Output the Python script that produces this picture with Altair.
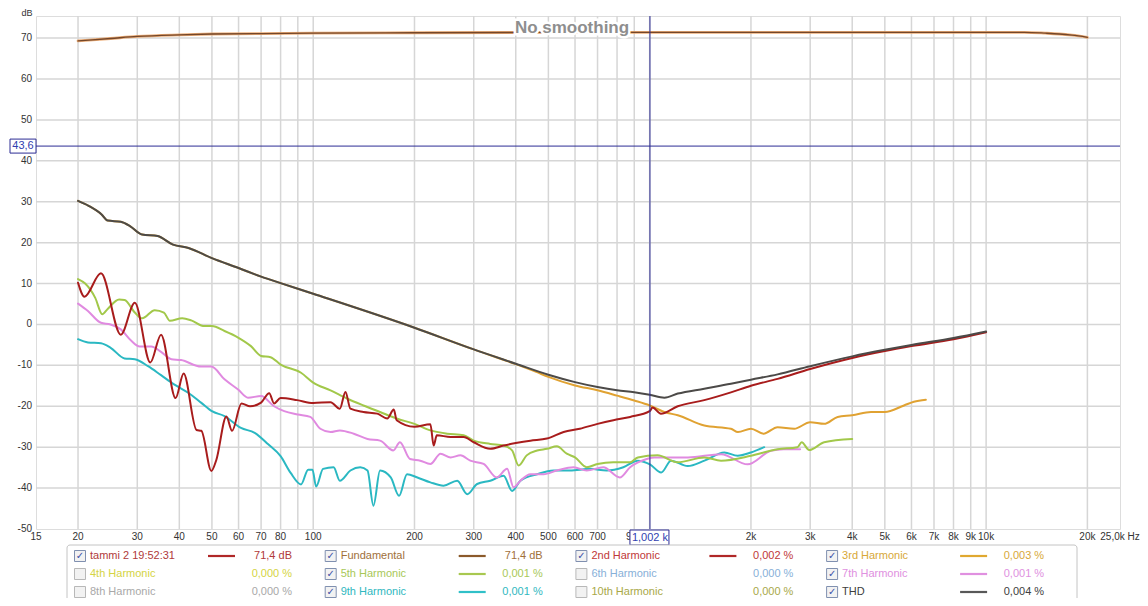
import altair as alt
import pandas as pd

# ---------------- axes ----------------
x_grid = [20, 30, 40, 50, 60, 70, 80, 90, 100, 200, 300, 400, 500, 600, 700, 800, 900, 1000,
          2000, 3000, 4000, 5000, 6000, 7000, 8000, 9000, 10000, 20000]
x_tick_values = [15, 20, 30, 40, 50, 60, 70, 80, 100, 200, 300, 400, 500, 600, 700, 900,
                 2000, 3000, 4000, 5000, 6000, 7000, 8000, 9000, 10000, 20000, 25000]
x_tick_labels = ["15", "20", "30", "40", "50", "60", "70", "80", "100", "200", "300", "400", "500",
                 "600", "700", "900", "2k", "3k", "4k", "5k", "6k", "7k", "8k", "9k", "10k", "20k",
                 "25,0k Hz"]
y_grid = [-40, -30, -20, -10, 0, 10, 20, 30, 40, 50, 60, 70]
y_tick_values = [-50, -40, -30, -20, -10, 0, 10, 20, 30, 40, 50, 60, 70]
y_tick_labels = ["-50", "-40", "-30", "-20", "-10", "0", "10", "20", "30", "40", "50", "60", "70"]

cursor_freq = 1002
cursor_freq_label = "1,002 k"
cursor_db = 43.6
cursor_db_label = "43,6"
title_text = "No smoothing"

# ---------------- series ----------------
fund_f = [20, 25, 30, 40, 50, 70, 100, 200, 500, 1000, 5000, 10000, 13000, 15000, 16500, 18000, 20000]
fund_db = [69.3, 69.9, 70.4, 70.8, 71.0, 71.1, 71.2, 71.3, 71.4, 71.4, 71.4, 71.4, 71.4, 71.2, 71.0, 70.7, 70.2]

thd_f = [20, 21.5, 23.5, 24.5, 26.8, 28.6, 31, 34.5, 38.3, 42.6, 50, 60, 70, 80, 100, 200, 300,
         400, 500, 600, 700, 800, 900, 1000, 1106, 1212, 1453, 1744, 2000, 2400, 3000, 4000,
         5000, 6000, 8000, 10000]
thd_db = [30.2, 29.0, 26.9, 25.4, 25.1, 24.0, 22.0, 21.6, 19.5, 18.7, 16.2, 13.8, 11.7, 10.1, 7.5,
          -0.8, -6.1, -9.6, -12.3, -14.1, -15.3, -16.1, -16.6, -17.2, -17.9, -16.9, -15.7, -14.5,
          -13.5, -12.2, -10.2, -7.8, -6.2, -5.0, -3.3, -1.7]

h3_f = [20, 21.5, 23.5, 24.5, 26.8, 28.6, 31, 34.5, 38.3, 42.6, 50, 60, 70, 80, 100, 200, 300,
        400, 460, 500, 600, 700, 800, 900, 1000, 1106, 1212, 1453, 1744, 1830, 2000, 2180, 2400,
        2690, 3000, 3300, 3620, 4000, 4550, 5000, 5700, 6100, 6620]
h3_db = [30.2, 29.0, 26.9, 25.4, 25.1, 24.0, 22.0, 21.6, 19.5, 18.7, 16.2, 13.8, 11.7, 10.1, 7.5,
         -0.8, -6.1, -9.7, -11.6, -12.8, -14.9, -16.1, -17.4, -18.6, -19.8, -21.4, -22.2, -24.7,
         -25.5, -26.3, -25.5, -26.7, -25.1, -25.5, -23.9, -24.3, -22.6, -22.2, -21.4, -21.4,
         -19.8, -18.9, -18.4]

h2_f = [20, 20.9, 23.4, 26.8, 29.5, 32.8, 35.3, 39.0, 41.2, 45, 46.5, 49.8, 51.5, 55.2, 57.4,
        61.2, 64.9, 70, 74, 76.5, 80, 89.6, 100, 112.6, 120, 124.7, 129, 141, 155, 166, 173.6,
        177, 200, 223, 228, 233, 256, 280, 300, 336, 368, 400, 442, 495, 555, 620, 700, 780, 875,
        1000, 1020, 1080, 1212, 1453, 1744, 2000, 2400, 3000, 4000, 5000, 6000, 8000, 10000]
h2_db = [10.2, 6.8, 12.5, -2.5, 5.3, -9.3, -2.5, -18.0, -12.0, -25.8, -26.0, -35.8, -33.2, -22.5,
         -26.0, -19.3, -20.0, -19.1, -16.8, -19.3, -18.0, -18.5, -19.2, -19.0, -20.6, -16.5,
         -20.6, -21.4, -21.8, -23.0, -20.8, -23.4, -25.0, -24.4, -29.6, -27.1, -27.5, -27.5,
         -28.8, -30.4, -29.6, -29.0, -28.4, -27.9, -26.3, -25.5, -24.3, -23.4, -22.6, -21.2,
         -20.3, -21.8, -20.0, -18.5, -16.6, -15.0, -13.3, -10.9, -8.2, -6.5, -5.3, -3.6, -1.9]

h5_f = [20, 21, 22.5, 23.6, 24.5, 26.5, 27.5, 29.5, 31, 33.8, 36, 37.5, 40.8, 43.4, 47.5, 50, 54.5,
        59.8, 65.3, 70, 74.7, 80, 92, 100, 112.6, 126, 141, 158, 177, 200, 223, 250, 280, 300,
        336, 368, 390, 408, 431, 463, 495, 530, 567, 600, 650, 700, 780, 875, 922, 1055, 1212,
        1453, 1630, 2000, 2400, 2750, 2830, 2980, 3300, 4000]
h5_db = [11.1, 10.0, 6.5, 2.5, 3.8, 6.1, 6.0, 2.9, 1.5, 3.5, 2.9, 0.9, 1.5, 1.0, -0.4, -0.4, -1.6,
         -3.2, -5.3, -7.7, -8.0, -9.8, -11.8, -14.2, -16.1, -18.1, -19.8, -21.4, -23.0, -24.3,
         -25.9, -26.7, -27.1, -28.4, -29.2, -29.6, -30.8, -34.5, -32.0, -30.8, -30.4, -29.8,
         -31.6, -32.5, -34.9, -34.1, -33.7, -33.7, -32.5, -32.0, -33.7, -32.5, -33.3, -32.1,
         -30.5, -30.0, -28.8, -30.7, -28.8, -28.0]

h7_f = [20, 21.4, 23.4, 25, 26.8, 28.8, 30.5, 33, 35.3, 37.9, 40.5, 46.4, 49.8, 54.5, 59.8, 64,
        70, 76.5, 82, 90, 98, 105, 112.6, 120, 132, 145, 158, 173, 181, 194, 208, 223, 239, 256,
        274, 293, 321, 351, 377, 394, 413, 442, 484, 530, 594, 650, 728, 815, 875, 980, 1032,
        1300, 1630, 1955, 2290, 2500, 2800]
h7_db = [5.1, 3.3, 0.4, 0.0, -1.2, -4.0, -5.4, -5.4, -6.7, -8.5, -8.7, -10.3, -10.3, -13.4, -15.9,
         -17.9, -17.5, -20.0, -21.2, -22.0, -22.6, -25.5, -26.3, -25.9, -26.7, -28.0, -28.4,
         -30.8, -28.8, -32.9, -33.3, -34.1, -31.6, -32.5, -32.0, -33.3, -34.1, -37.4, -35.3,
         -39.8, -38.2, -36.6, -36.6, -35.7, -34.9, -35.7, -34.9, -37.4, -34.9, -32.9, -32.5,
         -32.5, -31.7, -34.2, -30.9, -30.5, -30.5]

h9_f = [20, 21.4, 23.4, 25, 27.5, 29.5, 32.3, 35.3, 38.7, 42.5, 46.4, 50, 54.5, 61, 67, 73.5, 80,
        85.7, 92, 96.6, 99.5, 102, 107, 115, 120, 129, 138, 145, 151, 158, 170, 180, 190, 204,
        223, 244, 268, 287, 307, 336, 368, 390, 413, 463, 518, 580, 665, 745, 835, 922, 1002,
        1082, 1158, 1297, 1455, 1667, 1826, 2000, 2190]
h9_db = [-3.6, -4.4, -4.6, -5.7, -8.3, -8.5, -10.2, -12.4, -14.7, -16.7, -19.1, -21.2, -22.4,
         -25.3, -26.5, -29.3, -32.2, -36.3, -39.1, -35.5, -35.5, -39.6, -35.3, -34.9, -38.2,
         -35.7, -34.9, -35.7, -44.3, -35.7, -37.4, -41.9, -36.6, -37.4, -38.6, -39.4, -38.2,
         -41.5, -39.0, -38.2, -37.0, -40.7, -38.2, -36.6, -35.7, -35.7, -35.3, -35.7, -34.9,
         -33.3, -34.2, -36.2, -33.3, -34.6, -33.3, -31.3, -32.1, -31.3, -30.0]

# ---------------- legend ----------------
leg_names = ["tammi 2 19:52:31", "Fundamental", "2nd Harmonic", "3rd Harmonic",
             "4th Harmonic", "5th Harmonic", "6th Harmonic", "7th Harmonic",
             "8th Harmonic", "9th Harmonic", "10th Harmonic", "THD"]
leg_values = ["71,4 dB", "71,4 dB", "0,002 %", "0,003 %",
              "0,000 %", "0,001 %", "0,000 %", "0,001 %",
              "0,000 %", "0,001 %", "0,000 %", "0,004 %"]
leg_checked = [True, True, True, True, False, True, False, True, False, True, False, True]
leg_text_colors = ["#b03a3a", "#a0703a", "#c03838", "#d8a838",
                   "#d4d444", "#a8c858", "#88b0d8", "#e090e0",
                   "#a8a8a8", "#30b8c0", "#a8a848", "#404040"]
leg_line_colors = ["#b02828", "#8b5a2b", "#b02828", "#e0a830",
                   "", "#a8c850", "", "#e090e0",
                   "", "#30c0c8", "", "#585858"]

# ---------------- build ----------------
W, H = 1084, 513
xs = alt.Scale(type="log", domain=[15, 25000])
ys = alt.Scale(domain=[-50, 75.4])
FONT = "Liberation Sans"

def X(field="f"):
    return alt.X(f"{field}:Q", scale=xs, axis=None)

def Y(field="db"):
    return alt.Y(f"{field}:Q", scale=ys, axis=None)

vgrid = alt.Chart(pd.DataFrame({"f": x_grid})).mark_rule(color="#d6d6d6", strokeWidth=1.5).encode(x=X())
hgrid = alt.Chart(pd.DataFrame({"db": y_grid})).mark_rule(color="#d6d6d6", strokeWidth=1.5).encode(y=Y())

xlab = alt.Chart(pd.DataFrame({"f": x_tick_values, "t": x_tick_labels})).mark_text(
    font=FONT, fontSize=10, color="#333333", baseline="middle", align="center"
).encode(x=X(), y=alt.value(H + 8), text="t:N")
ylab = alt.Chart(pd.DataFrame({"db": y_tick_values, "t": y_tick_labels})).mark_text(
    font=FONT, fontSize=10, color="#333333", baseline="middle", align="right"
).encode(x=alt.value(-4), y=Y(), text="t:N")
dblab = alt.Chart(pd.DataFrame({"t": ["dB"]})).mark_text(
    font=FONT, fontSize=9, color="#333333", align="center", baseline="middle"
).encode(x=alt.value(-9), y=alt.value(-3), text="t:N")

def line(fr, db, color, width=2.0, opacity=1.0):
    return alt.Chart(pd.DataFrame({"f": fr, "db": db})).mark_line(
        color=color, strokeWidth=width, interpolate="monotone", opacity=opacity,
        strokeJoin="round", strokeCap="round"
    ).encode(x=X(), y=Y())

fund_halo = line(fund_f, fund_db, "#eaa468", 2.8, 0.9)
fund = line(fund_f, fund_db, "#74472a", 1.3)
l9 = line(h9_f, h9_db, "#2ab8c2")
l7 = line(h7_f, h7_db, "#e08ae0")
l5 = line(h5_f, h5_db, "#a2c84a")
l3 = line(h3_f, h3_db, "#e0a232")
l2 = line(h2_f, h2_db, "#a81c1c")
lthd = line(thd_f, thd_db, "#4c4a48")

# title with white halo
tdf = pd.DataFrame({"t": [title_text]})
title_halo = alt.Chart(tdf).mark_text(
    font=FONT, fontSize=17, fontWeight="bold", color="white", stroke="white", strokeWidth=5,
    align="center", baseline="middle"
).encode(x=alt.value(536), y=alt.value(12), text="t:N")
title = alt.Chart(tdf).mark_text(
    font=FONT, fontSize=17, fontWeight="bold", color="#8e8e8e", align="center", baseline="middle"
).encode(x=alt.value(536), y=alt.value(12), text="t:N")

# cursor
CUR = "#2c2c94"
cur_v = alt.Chart(pd.DataFrame({"f": [cursor_freq]})).mark_rule(color=CUR, strokeWidth=1).encode(x=X())
cur_h = alt.Chart(pd.DataFrame({"db": [cursor_db]})).mark_rule(color=CUR, strokeWidth=1).encode(y=Y())
cur_ybox = alt.Chart(pd.DataFrame({"db": [cursor_db]})).mark_rect(
    fill="white", stroke=CUR, strokeWidth=1, yOffset=-7, y2Offset=7
).encode(x=alt.value(-26), x2=alt.value(0), y=Y(), y2="db:Q")
cur_ytxt = alt.Chart(pd.DataFrame({"db": [cursor_db], "t": [cursor_db_label]})).mark_text(
    font=FONT, fontSize=11, color="#3040b0", align="center", baseline="middle"
).encode(x=alt.value(-13), y=Y(), text="t:N")
cur_xbox = alt.Chart(pd.DataFrame({"f": [cursor_freq]})).mark_rect(
    fill="white", stroke=CUR, strokeWidth=1, xOffset=-20, x2Offset=19
).encode(x=X(), x2="f:Q", y=alt.value(H + 1), y2=alt.value(H + 16))
cur_xtxt = alt.Chart(pd.DataFrame({"f": [cursor_freq], "t": [cursor_freq_label]})).mark_text(
    font=FONT, fontSize=11, color="#3040b0", align="center", baseline="middle"
).encode(x=X(), y=alt.value(H + 8.5), text="t:N")

# legend (layout computed from column/row index)
col_x0, col_dx = 44, 250.7
row_y0, row_dy = 540, 18
rows = []
for i, name in enumerate(leg_names):
    c, r = i % 4, i // 4
    cx = col_x0 + c * col_dx
    cy = row_y0 + r * row_dy
    rows.append(dict(name=name, val=leg_values[i], tc=leg_text_colors[i], lc=leg_line_colors[i],
                     chk="✓" if leg_checked[i] else "", cx=cx, cy=cy,
                     bx0=cx - 5.5, bx1=cx + 5.5, by0=cy - 5.5, by1=cy + 5.5,
                     nx=cx + 10, lx0=cx + 128, lx1=cx + 155, vx=cx + 212,
                     bs="#8090b0" if leg_checked[i] else "#b8b8b8"))
leg = pd.DataFrame(rows)
PX = lambda f: alt.X(f"{f}:Q", scale=None, axis=None)
PY = lambda f: alt.Y(f"{f}:Q", scale=None, axis=None)

leg_box = alt.Chart(pd.DataFrame({"a": [31], "b": [1041], "c": [529], "d": [592]})).mark_rect(
    fill="white", stroke="#c4c4c4", strokeWidth=1, cornerRadius=3
).encode(x=PX("a"), x2="b:Q", y=PY("c"), y2="d:Q")
leg_cb = alt.Chart(leg).mark_rect(fill="#f2f2f2", strokeWidth=1).encode(
    x=PX("bx0"), x2="bx1:Q", y=PY("by0"), y2="by1:Q",
    stroke=alt.Stroke("bs:N", scale=None))
leg_chk = alt.Chart(leg).mark_text(font="DejaVu Sans", fontSize=10, fontWeight="bold",
                                   color="#3a50a8", align="center", baseline="middle").encode(
    x=PX("cx"), y=PY("cy"), text="chk:N")
leg_name = alt.Chart(leg).mark_text(font=FONT, fontSize=11, align="left", baseline="middle").encode(
    x=PX("nx"), y=PY("cy"), text="name:N", color=alt.Color("tc:N", scale=None))
leg_val = alt.Chart(leg).mark_text(font=FONT, fontSize=11, align="right", baseline="middle").encode(
    x=PX("vx"), y=PY("cy"), text="val:N", color=alt.Color("tc:N", scale=None))
leg_line = alt.Chart(leg[leg.lc != ""]).mark_rule(strokeWidth=2.2).encode(
    x=PX("lx0"), x2="lx1:Q", y=PY("cy"), color=alt.Color("lc:N", scale=None))

chart = alt.layer(
    vgrid, hgrid, fund_halo, fund, l9, l7, l5, l3, l2, lthd,
    title_halo, title, cur_v, cur_h, xlab, ylab, dblab,
    cur_ybox, cur_ytxt, cur_xbox, cur_xtxt,
    leg_box, leg_cb, leg_chk, leg_name, leg_val, leg_line
).properties(
    width=W, height=H, autosize="none",
    padding={"left": 28, "top": 8, "right": 20, "bottom": 69}
).configure_view(stroke="#b0b0b0", strokeWidth=2).configure(background="white")

chart.save("out.html", embed_options={"renderer": "svg", "actions": False})
